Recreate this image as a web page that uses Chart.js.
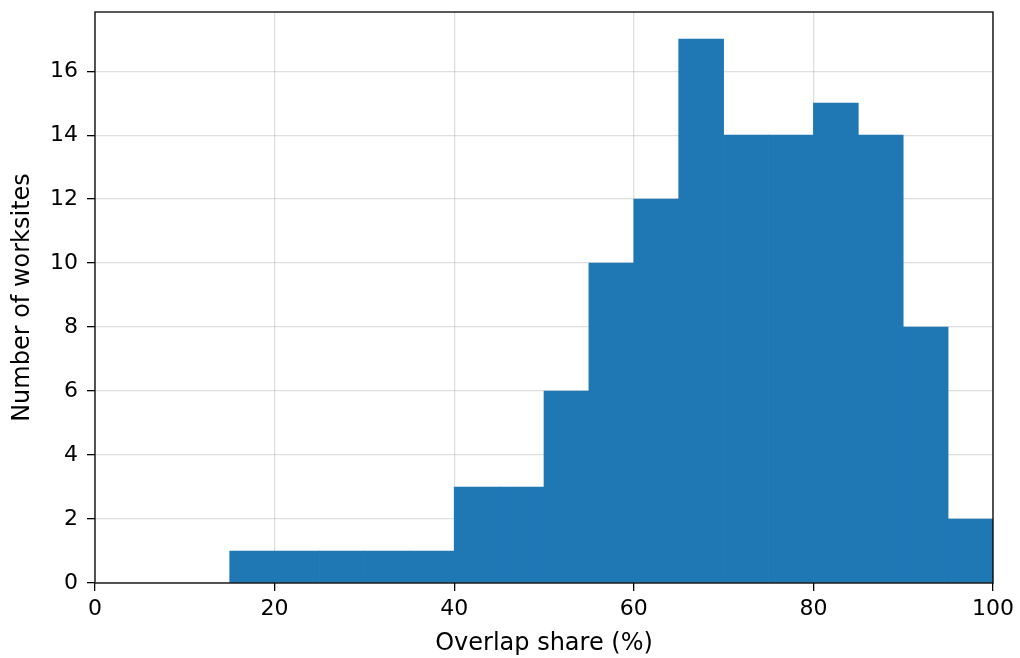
<!DOCTYPE html>
<html>
<head>
<meta charset="utf-8">
<script src="https://cdn.jsdelivr.net/npm/chart.js@4.4.1/dist/chart.umd.min.js"></script>
<style>
  html, body { margin: 0; padding: 0; background: #fff; }
  canvas { display: block; }
</style>
</head>
<body>
<canvas id="hist-chart" width="1020" height="658"></canvas>
<script>
// histogram bins (left edge, width 5) and counts
var binStarts = [15, 20, 25, 30, 35, 40, 45, 50, 55, 60, 65, 70, 75, 80, 85, 90, 95];
var binWidth = 5;
var counts = [1, 1, 1, 1, 1, 3, 3, 6, 10, 12, 17, 14, 14, 15, 14, 8, 2];
var xTicks = [0, 20, 40, 60, 80, 100];
var yTicks = [0, 2, 4, 6, 8, 10, 12, 14, 16];

var points = [];
for (i = 0; i < binStarts.length; i++) {
    points.push({ x: binStarts[i] + binWidth / 2, y: counts[i] });
}

Chart.defaults.font.family = 'DejaVu Sans';
Chart.defaults.font.size = 22;
Chart.defaults.color = '#000';

// black frame round the plot area, like matplotlib spines
var framePlugin = {
    id: 'frame',
    afterDraw: function(chart) {
        var a = chart.chartArea, ctx = chart.ctx;
        ctx.save();
        ctx.strokeStyle = '#000';
        ctx.lineWidth = 1.3;
        ctx.strokeRect(a.left, a.top, a.right - a.left, a.bottom - a.top);
        ctx.restore();
    }
};

var gridStyle = { offset: false, color: 'rgba(176,176,176,0.4)', lineWidth: 1.3, tickColor: '#000', tickLength: 8, tickWidth: 1.3 };

var ctx = document.getElementById('hist-chart');
new Chart(ctx, {
    type: 'bar',
    data: {
        datasets: [{
            label: 'Worksites',
            data: points,
            backgroundColor: '#1f77b4',
            borderWidth: 0,
            barPercentage: 1,
            categoryPercentage: 1
        }]
    },
    options: {
        responsive: false,
        animation: false,
        layout: { padding: { left: 0, top: 12, right: 27, bottom: 0 } },
        plugins: { legend: { display: false }, tooltip: { enabled: false } },
        scales: {
            x: {
                type: 'linear',
                min: 0,
                max: 100,
                offset: false,
                z: 1,
                afterFit: function(scale) {
                    scale.height = 75;
                    scale.paddingLeft = 0;
                    scale.paddingRight = 0;
                },
                afterBuildTicks: function(scale) {
                    scale.ticks = xTicks.map(function(v) { return { value: v }; });
                },
                grid: gridStyle,
                border: { display: false },
                ticks: { autoSkip: false, padding: 5, maxRotation: 0 },
                title: { display: true, text: 'Overlap share (%)', font: { size: 24 }, padding: { top: 0, bottom: 0 } }
            },
            y: {
                type: 'linear',
                min: 0,
                max: 17.85,
                z: 1,
                afterFit: function(scale) {
                    scale.width = 95;
                    scale.paddingTop = 0;
                    scale.paddingBottom = 0;
                },
                afterBuildTicks: function(scale) {
                    scale.ticks = yTicks.map(function(v) { return { value: v }; });
                },
                grid: gridStyle,
                border: { display: false },
                ticks: { autoSkip: false, padding: 9 },
                title: { display: true, text: 'Number of worksites', font: { size: 24 }, padding: { top: 8, bottom: 4 } }
            }
        }
    },
    plugins: [framePlugin]
});
</script>
</body>
</html>
